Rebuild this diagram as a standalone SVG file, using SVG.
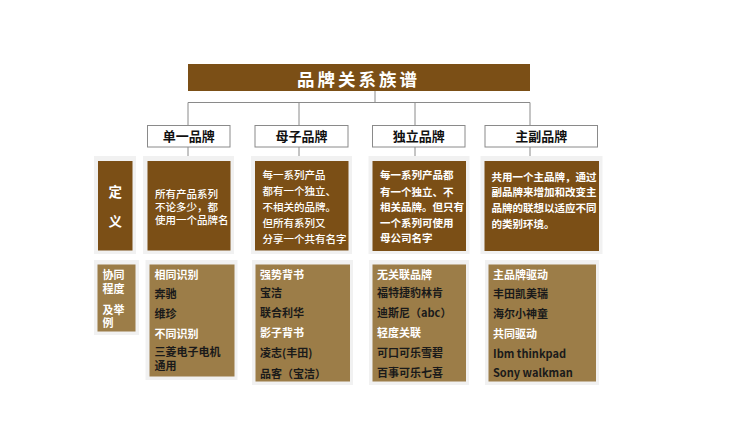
<svg xmlns="http://www.w3.org/2000/svg" width="750" height="422" viewBox="0 0 750 422">
<defs>
<style>
.cn{font-family:"Noto Sans CJK SC","Noto Sans",sans-serif;}
.title{font-size:17.5px;font-weight:bold;fill:#fff;letter-spacing:3px;}
.hdr{font-size:13px;font-weight:bold;fill:#111;text-anchor:middle;}
.hbox{fill:#fff;stroke:#8a8a8a;stroke-width:1;}
.dark{fill:#7b4f16;}
.light{fill:#9c7d48;}
.shadow{fill:#f1f1f1;}
.dt{font-size:10.5px;fill:#fff;font-weight:500;}
.dtb{font-size:10.5px;fill:#fff;font-weight:bold;}
.bt{font-size:11px;font-weight:bold;fill:#1a1a1a;}
.bw{font-size:11px;font-weight:bold;fill:#fff;}
.conn{stroke:#8a8a8a;stroke-width:1;fill:none;}
</style>
</defs>
<rect width="750" height="422" fill="#fff"/>

<g id="connectors">
<path class="conn" d="M375,91 V102.5 M188,102.5 H530 M188,102.5 V125 M299,102.5 V125 M415,102.5 V125 M530,102.5 V125"/>
<path class="conn" d="M188,147 V159 M299,147 V159 M415,147 V159 M530,147 V159"/>
</g>

<g id="title">
<rect class="dark" x="188" y="64" width="342" height="27"/>
<text class="cn title" x="297" y="85.5">品牌关系族谱</text>
</g>

<g id="hdr-single">
<rect class="hbox" x="147.5" y="125.5" width="82.5" height="21.5"/>
<text class="cn hdr" x="188.7" y="141">单一品牌</text>
</g>
<g id="hdr-parent">
<rect class="hbox" x="255" y="125.5" width="93" height="21.5"/>
<text class="cn hdr" x="301.5" y="141">母子品牌</text>
</g>
<g id="hdr-independent">
<rect class="hbox" x="372.5" y="125.5" width="92.5" height="21.5"/>
<text class="cn hdr" x="418.8" y="141">独立品牌</text>
</g>
<g id="hdr-sub">
<rect class="hbox" x="485" y="125.5" width="112.5" height="21.5"/>
<text class="cn hdr" x="541.2" y="141">主副品牌</text>
</g>

<g id="def-label">
<rect class="shadow" x="94" y="156" width="42" height="98"/>
<rect class="dark" x="98" y="161" width="34.5" height="89.5"/>
<text class="cn" x="115.3" y="196.5" font-size="13.5" font-weight="bold" fill="#fff" text-anchor="middle">定</text>
<text class="cn" x="115.3" y="225.5" font-size="13.5" font-weight="bold" fill="#fff" text-anchor="middle">义</text>
</g>

<g id="def-single">
<rect class="shadow" x="143" y="156" width="91" height="98"/>
<rect class="dark" x="147.5" y="161" width="83" height="89.5"/>
<text class="cn dt" x="155" y="197.5">所有产品系列</text>
<text class="cn dt" x="155" y="210.5">不论多少，都</text>
<text class="cn dt" x="155" y="223.5">使用一个品牌名</text>
</g>

<g id="def-parent">
<rect class="shadow" x="251" y="156" width="101" height="98"/>
<rect class="dark" x="255" y="161" width="93.5" height="89.5"/>
<text class="cn dt" x="262.5" y="178.5">每一系列产品</text>
<text class="cn dt" x="262.5" y="194.5">都有一个独立、</text>
<text class="cn dt" x="262.5" y="210.5">不相关的品牌。</text>
<text class="cn dt" x="262.5" y="226.5">但所有系列又</text>
<text class="cn dt" x="262.5" y="242.5">分享一个共有名字</text>
</g>

<g id="def-independent">
<rect class="shadow" x="368.5" y="156" width="101" height="98"/>
<rect class="dark" x="372.5" y="161" width="93.5" height="90"/>
<text class="cn dtb" x="380" y="178.5">每一系列产品都</text>
<text class="cn dtb" x="380" y="195.5">有一个独立、不</text>
<text class="cn dtb" x="380" y="211.3">相关品牌。但只有</text>
<text class="cn dtb" x="380" y="226.7">一个系列可使用</text>
<text class="cn dtb" x="380" y="242.3">母公司名字</text>
</g>

<g id="def-sub">
<rect class="shadow" x="480.5" y="156" width="122" height="98"/>
<rect class="dark" x="484.5" y="161" width="114.5" height="90"/>
<text class="cn dtb" x="491.5" y="180.7">共用一个主品牌，通过</text>
<text class="cn dtb" x="491.5" y="196.3">副品牌来增加和改变主</text>
<text class="cn dtb" x="491.5" y="212.3">品牌的联想以适应不同</text>
<text class="cn dtb" x="491.5" y="228.3">的类别环境。</text>
</g>

<g id="syn-label">
<rect class="shadow" x="94" y="260" width="45" height="75"/>
<rect class="light" x="97.5" y="264.5" width="38" height="67"/>
<text class="cn bw" x="102.5" y="279" font-size="11.5">协同</text>
<text class="cn bw" x="102.5" y="292.5" font-size="11.5">程度</text>
<text class="cn bw" x="102.5" y="314" font-size="11.5">及举</text>
<text class="cn bw" x="102.5" y="327" font-size="11.5">例</text>
</g>

<g id="ex-single">
<rect class="shadow" x="145.5" y="260" width="92" height="120"/>
<rect class="light" x="149.5" y="264.5" width="85" height="112"/>
<text class="cn bw" x="154.5" y="279">相同识别</text>
<text class="cn bt" x="154.5" y="297.5">奔驰</text>
<text class="cn bt" x="154.5" y="317.5">维珍</text>
<text class="cn bw" x="154.5" y="337.5">不同识别</text>
<text class="cn bt" x="154.5" y="355.8">三菱电子电机</text>
<text class="cn bt" x="154.5" y="370.2">通用</text>
</g>

<g id="ex-parent">
<rect class="shadow" x="252" y="260" width="101" height="125"/>
<rect class="light" x="255.5" y="264.5" width="94.5" height="117"/>
<text class="cn bw" x="260" y="279">强势背书</text>
<text class="cn bt" x="260" y="297.3">宝洁</text>
<text class="cn bt" x="260" y="317.3">联合利华</text>
<text class="cn bw" x="260" y="337.3">影子背书</text>
<text class="cn bt" x="260" y="357.3">凌志(丰田)</text>
<text class="cn bt" x="260" y="378">品客（宝洁）</text>
</g>

<g id="ex-independent">
<rect class="shadow" x="369" y="260" width="100" height="125"/>
<rect class="light" x="372.5" y="264.5" width="93.5" height="117"/>
<text class="cn bw" x="377" y="279">无关联品牌</text>
<text class="cn bt" x="377" y="297.3">福特捷豹林肯</text>
<text class="cn bt" x="377" y="317.3">迪斯尼（abc）</text>
<text class="cn bw" x="377" y="337.3">轻度关联</text>
<text class="cn bt" x="377" y="357.3">可口可乐雪碧</text>
<text class="cn bt" x="377" y="377.3">百事可乐七喜</text>
</g>

<g id="ex-sub">
<rect class="shadow" x="485" y="260" width="114" height="125"/>
<rect class="light" x="488.5" y="264.5" width="107.5" height="117"/>
<text class="cn bw" x="493" y="279">主品牌驱动</text>
<text class="cn bt" x="493" y="297.5">丰田凯美瑞</text>
<text class="cn bt" x="493" y="317.5">海尔小神童</text>
<text class="cn bw" x="493" y="337.5">共同驱动</text>
<text class="cn bt" x="493" y="357.5">Ibm thinkpad</text>
<text class="cn bt" x="493" y="377">Sony walkman</text>
</g>
</svg>
